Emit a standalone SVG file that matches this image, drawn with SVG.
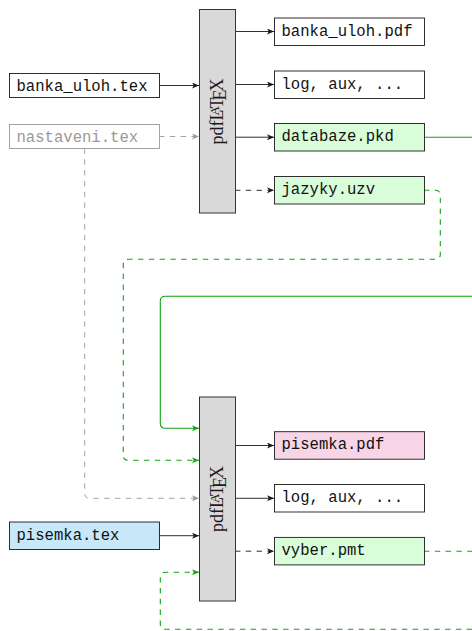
<svg xmlns="http://www.w3.org/2000/svg" width="472" height="631" viewBox="0 0 472 631">
  <style>
    .file { stroke: #1a1a1a; stroke-width: 0.9; fill: #ffffff; }
    .file.out-green { fill: #d9fdd9; }
    .file.out-pink { fill: #f8d5e6; }
    .file.in-blue { fill: #c6e8f8; }
    .file.muted { stroke: #999999; }
    .engine { fill: #d9d9d9; stroke: #333333; stroke-width: 1; }
    .tt { font-family: "Liberation Mono", "DejaVu Sans Mono", monospace; font-size: 15.6px; fill: #111111; }
    .tt.muted { fill: #999999; }
    .rm { font-family: "Liberation Serif", "DejaVu Serif", serif; font-size: 18px; fill: #1a1a1a; }
    .edge { fill: none; stroke-width: 0.9; }
    .solid-black { stroke: #1a1a1a; marker-end: url(#arrow-black); }
    .dash-black { stroke: #1a1a1a; stroke-dasharray: 5.4 5.4; marker-end: url(#arrow-black); }
    .dash-gray { stroke: #999999; stroke-dasharray: 5.4 5.4; marker-end: url(#arrow-gray); }
    .solid-green { stroke: #12a512; stroke-width: 1.1; marker-end: url(#arrow-green); }
    .dash-green { stroke: #12a512; stroke-width: 1.1; stroke-dasharray: 5.4 5.4; marker-end: url(#arrow-green); }
  </style>
  <defs>
    <marker id="arrow-black" markerUnits="userSpaceOnUse" markerWidth="9" markerHeight="8" refX="7" refY="3" orient="auto">
      <path d="M0,0 L7,3 L0,6 L1.8,3 Z" fill="#1a1a1a"/>
    </marker>
    <marker id="arrow-gray" markerUnits="userSpaceOnUse" markerWidth="9" markerHeight="8" refX="7" refY="3" orient="auto">
      <path d="M0,0 L7,3 L0,6 L1.8,3 Z" fill="#999999"/>
    </marker>
    <marker id="arrow-green" markerUnits="userSpaceOnUse" markerWidth="9" markerHeight="8" refX="7" refY="3" orient="auto">
      <path d="M0,0 L7,3 L0,6 L1.8,3 Z" fill="#12a512"/>
    </marker>
  </defs>

  <!-- connectors -->
  <g id="connectors">
    <!-- first run inputs -->
    <path class="edge solid-black" d="M159,85.5 H199"/>
    <path class="edge dash-gray" d="M159,136.5 H199"/>
    <!-- first run outputs -->
    <path class="edge solid-black" d="M235,31.5 H274"/>
    <path class="edge solid-black" d="M235,84.5 H274"/>
    <path class="edge solid-black" d="M235,137.2 H274"/>
    <path class="edge dash-black" d="M235,190.3 H274"/>
    <!-- databaze.pkd feeds the second run -->
    <path class="edge solid-green" d="M424,137.2 H490 V296.3 H165.3 Q160.3,296.3 160.3,301.3 V423.3 Q160.3,428.3 165.3,428.3 H199"/>
    <!-- jazyky.uzv feeds the second run -->
    <path class="edge dash-green" d="M424,190.3 H435.3 Q440.3,190.3 440.3,195.3 V254.3 Q440.3,259.3 435.3,259.3 H128.3 Q123.3,259.3 123.3,264.3 V455.3 Q123.3,460.3 128.3,460.3 H199"/>
    <!-- nastaveni.tex also feeds the second run -->
    <path class="edge dash-gray" d="M84.7,148.5 V493.3 Q84.7,498.3 89.7,498.3 H199"/>
    <!-- second run input -->
    <path class="edge solid-black" d="M159,535.7 H199"/>
    <!-- vyber.pmt loops back -->
    <path class="edge dash-green" d="M424,551.2 H490 V629.3 H165.3 Q160.3,629.3 160.3,624.3 V577.3 Q160.3,572.3 165.3,572.3 H199"/>
    <!-- second run outputs -->
    <path class="edge solid-black" d="M235,445.5 H274"/>
    <path class="edge solid-black" d="M235,498.3 H274"/>
    <path class="edge dash-black" d="M235,551.2 H274"/>
  </g>

  <!-- first compilation -->
  <g id="pdflatex-1">
    <rect class="engine" x="199.5" y="9.5" width="36" height="203.5"/>
    <text class="rm" transform="translate(217.5,111.5) rotate(-90)" x="0" y="5" text-anchor="middle">pdfL<tspan dx="-6" dy="-3.6" font-size="13">A</tspan><tspan dx="-2.4" dy="3.6">T</tspan><tspan dx="-3" dy="3.8">E</tspan><tspan dx="-2.2" dy="-3.8">X</tspan></text>
  </g>

  <g id="banka_uloh-tex">
    <rect class="file" x="9.5" y="73.5" width="150" height="24"/>
    <text class="tt" x="16.5" y="91">banka_uloh.tex</text>
  </g>
  <g id="nastaveni-tex">
    <rect class="file muted" x="9.5" y="124.5" width="150" height="24"/>
    <text class="tt muted" x="16.5" y="142">nastaveni.tex</text>
  </g>

  <g id="banka_uloh-pdf">
    <rect class="file" x="274.5" y="18" width="150" height="27.5"/>
    <text class="tt" x="281.5" y="35.5">banka_uloh.pdf</text>
  </g>
  <g id="log-aux-1">
    <rect class="file" x="274.5" y="71" width="150" height="27.5"/>
    <text class="tt" x="281.5" y="88.5">log, aux, ...</text>
  </g>
  <g id="databaze-pkd">
    <rect class="file out-green" x="274.5" y="123.5" width="150" height="27.5"/>
    <text class="tt" x="281.5" y="141">databaze.pkd</text>
  </g>
  <g id="jazyky-uzv">
    <rect class="file out-green" x="274.5" y="176.5" width="150" height="27.5"/>
    <text class="tt" x="281.5" y="194">jazyky.uzv</text>
  </g>

  <!-- second compilation -->
  <g id="pdflatex-2">
    <rect class="engine" x="199.5" y="397" width="36" height="204"/>
    <text class="rm" transform="translate(217.5,499) rotate(-90)" x="0" y="5" text-anchor="middle">pdfL<tspan dx="-6" dy="-3.6" font-size="13">A</tspan><tspan dx="-2.4" dy="3.6">T</tspan><tspan dx="-3" dy="3.8">E</tspan><tspan dx="-2.2" dy="-3.8">X</tspan></text>
  </g>

  <g id="pisemka-tex">
    <rect class="file in-blue" x="9.5" y="522" width="150" height="27.5"/>
    <text class="tt" x="16.5" y="539.5">pisemka.tex</text>
  </g>

  <g id="pisemka-pdf">
    <rect class="file out-pink" x="274.5" y="431.7" width="150" height="27.5"/>
    <text class="tt" x="281.5" y="449.2">pisemka.pdf</text>
  </g>
  <g id="log-aux-2">
    <rect class="file" x="274.5" y="484.5" width="150" height="27.5"/>
    <text class="tt" x="281.5" y="502">log, aux, ...</text>
  </g>
  <g id="vyber-pmt">
    <rect class="file out-green" x="274.5" y="537.4" width="150" height="27.5"/>
    <text class="tt" x="281.5" y="554.9">vyber.pmt</text>
  </g>
</svg>
